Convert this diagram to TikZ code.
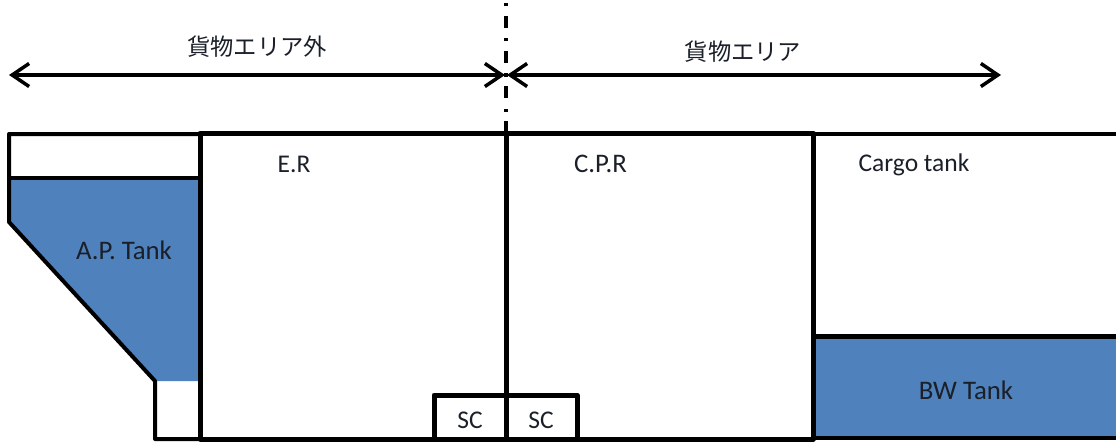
\documentclass[tikz,border=0pt]{standalone}
\usepackage{fontspec}
\setmainfont{Carlito}
\newfontfamily\cjk{Noto Sans CJK JP}
\usetikzlibrary{arrows.meta}
\definecolor{tankblue}{HTML}{4F81BD}
\definecolor{labelink}{HTML}{1A1F28}
\tikzset{
  x=1pt,y=-1pt,
  wall/.style={line width=5pt,line join=round,line cap=round,black},
  thinwall/.style={line width=4pt,line join=round,line cap=round,black},
  tankfill/.style={fill=tankblue,draw=none},
  lbl/.style={inner sep=0pt,font=\fontsize{25.5}{28}\selectfont,text=labelink},
  biglbl/.style={inner sep=0pt,font=\fontsize{26.8}{28}\selectfont,text=labelink},
  jplbl/.style={inner sep=0pt,font=\cjk\fontsize{23.3}{28}\selectfont,text=labelink},
  span/.style={line width=3.5pt,black,{Straight Barb[length=17pt,width=23pt,line width=3.5pt]}-{Straight Barb[length=17pt,width=23pt,line width=3.5pt]}},
  centre/.style={line width=4pt,black,dash pattern=on 12pt off 9.5pt on 3pt off 10.5pt},
}
\begin{document}
\begin{tikzpicture}
\useasboundingbox (0,0) rectangle (1116,444);
% fills
\fill[tankfill] (11,180) -- (198,180) -- (198,381) -- (155,381) -- (11,222) -- cycle;
\fill[tankfill] (813,336) rectangle (1116,438);
% centre line
\coordinate (cl) at (506,133);
\coordinate (ct) at (506,0);
\draw[centre] (cl) -- (ct);
% span arrows
\coordinate (sl) at (9,75);
\coordinate (sm1) at (505,75);
\coordinate (sm2) at (507,75);
\coordinate (sr) at (1001,75);
\draw[span] (sl) -- (sm1);
\draw[span] (sm2) -- (sr);
% hull
\draw[thinwall] (200,134) -- (9,134) -- (9,222) -- (155,381) -- (155,439) -- (200,439);
\draw[thinwall] (9,178) -- (200,178);
\draw[wall] (200,133) -- (813,133) -- (813,439) -- (200,439) -- cycle;
\draw[wall] (506,133) -- (506,439);
\draw[thinwall,line cap=butt] (813,134) -- (1116,134);
\draw[wall,line cap=butt] (813,336) -- (1116,336);
\draw[thinwall,line cap=butt] (813,438) -- (1116,438);
\draw[wall] (434,439) -- (434,395) -- (577,395) -- (577,439);
% labels
\node[jplbl] (outside) at (257,47) {貨物エリア外};
\node[jplbl] (inside) at (743,52) {貨物エリア};
\node[lbl] (er) at (294,164) {E.R};
\node[biglbl] (cpr) at (600.5,164) {C.P.R};
\node[lbl] (cargo) at (914,165) {Cargo tank};
\node[biglbl] (ap) at (124,250) {A.P. Tank};
\node[biglbl] (bw) at (966,390) {BW Tank};
\node[lbl] (sc1) at (470,420) {SC};
\node[lbl] (sc2) at (541,420) {SC};
\end{tikzpicture}
\end{document}
